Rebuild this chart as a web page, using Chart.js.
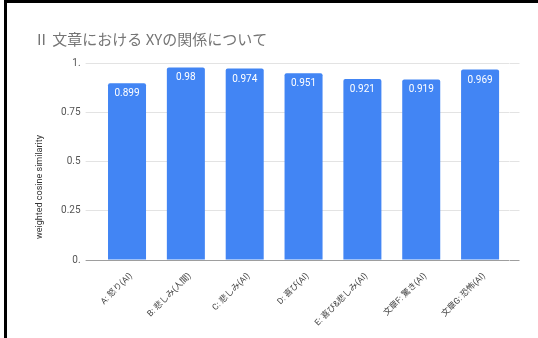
<!DOCTYPE html>
<html>
<head>
<meta charset="utf-8">
<script src="https://cdn.jsdelivr.net/npm/chart.js@4"></script>
<style>
  html, body { margin: 0; padding: 0; background: #fff; }
  #wrap { position: relative; width: 538px; height: 338px; overflow: hidden; }
  #frame-top { position: absolute; left: 4px; top: 0; width: 534px; height: 3px; background: #000; }
  #frame-left { position: absolute; left: 4px; top: 0; width: 3px; height: 338px; background: #000; }
</style>
</head>
<body>
<div id="wrap">
  <canvas id="chart"></canvas>
  <div id="frame-top"></div>
  <div id="frame-left"></div>
</div>
<script>
const categories = ['A: 怒り(AI)', 'B: 悲しみ(人間)', 'C: 悲しみ(AI)', 'D: 喜び(AI)', 'E: 喜び&悲しみ(AI)', '文章F: 驚き(AI)', '文章G: 恐怖(AI)'];
const similarity = [0.899, 0.98, 0.974, 0.951, 0.921, 0.919, 0.969];
const yTicks = [0, 0.25, 0.5, 0.75, 1];

const FONT = "Roboto, 'Noto Sans CJK JP', sans-serif";
const TITLE_FONT = "'Noto Sans CJK JP', Roboto, sans-serif";
const BLUE = '#4285f4';
const gridColor = ctx => (ctx.tick && ctx.tick.value === 0 ? '#9e9e9e' : '#e3e3e3');
const tickText = v => (v === 0 ? '0.' : v === 1 ? '1.' : String(v));

// value labels inside the top of every bar
const barValues = {
    id: 'barValues',
    afterDatasetsDraw(chart) {
        const { ctx } = chart;
        const meta = chart.getDatasetMeta(0);
        ctx.save();
        ctx.font = `10px ${FONT}`;
        ctx.fillStyle = '#ffffff';
        ctx.textAlign = 'center';
        ctx.textBaseline = 'middle';
        meta.data.forEach((bar, i) => {
            ctx.fillText(String(similarity[i]), bar.x, bar.y + 10.5);
        });
        ctx.restore();
    }
};

// vertical axis title, centred on the whole plot block
const sideTitle = {
    id: 'sideTitle',
    afterDraw(chart) {
        const { ctx } = chart;
        ctx.save();
        ctx.translate(40, 187);
        ctx.rotate(-Math.PI / 2);
        ctx.font = `9px ${FONT}`;
        ctx.fillStyle = '#333';
        ctx.textAlign = 'center';
        ctx.textBaseline = 'middle';
        ctx.fillText('weighted cosine similarity', 0, 0);
        ctx.restore();
    }
};

new Chart(document.getElementById('chart'), {
    type: 'bar',
    data: {
        labels: categories,
        datasets: [{
            data: similarity,
            backgroundColor: BLUE,
            borderRadius: 2,
            borderSkipped: 'start',
            categoryPercentage: 1,
            barPercentage: 0.646
        }]
    },
    options: {
        responsive: true,
        maintainAspectRatio: false,
        animation: false,
        layout: { padding: { left: 34, right: 0, top: 0, bottom: 0 } },
        plugins: {
            legend: { display: false },
            tooltip: { enabled: false },
            title: {
                display: true,
                text: 'Ⅱ 文章における XYの関係について',
                align: 'start',
                color: '#757575',
                font: { family: TITLE_FONT, size: 15, weight: 'normal', lineHeight: 1.2 },
                padding: { top: 30, bottom: 15.5 }
            }
        },
        scales: {
            x: {
                grid: { display: false },
                border: { display: false },
                ticks: {
                    autoSkip: false,
                    minRotation: 45,
                    maxRotation: 45,
                    padding: 3,
                    labelOffset: 4,
                    color: '#444',
                    font: { family: FONT, size: 8.5 }
                },
                afterFit(scale) { scale.height = 78; }
            },
            y: {
                min: 0,
                max: 1,
                afterBuildTicks(scale) { scale.ticks = yTicks.map(v => ({ value: v })); },
                grid: { color: gridColor, tickColor: gridColor, tickLength: 12, drawTicks: true },
                border: { display: false },
                ticks: {
                    padding: 5,
                    color: '#555',
                    font: { family: FONT, size: 10 },
                    callback: v => tickText(v)
                },
                afterFit(scale) { scale.width = 63.6; }
            },
            y2: {
                position: 'right',
                min: 0,
                max: 1,
                afterBuildTicks(scale) { scale.ticks = yTicks.map(v => ({ value: v })); },
                grid: { drawOnChartArea: false, color: gridColor, tickColor: gridColor, tickLength: 10, drawTicks: true },
                border: { display: false },
                ticks: { display: false },
                afterFit(scale) { scale.width = 28.5; }
            }
        }
    },
    plugins: [barValues, sideTitle]
});
</script>
</body>
</html>
